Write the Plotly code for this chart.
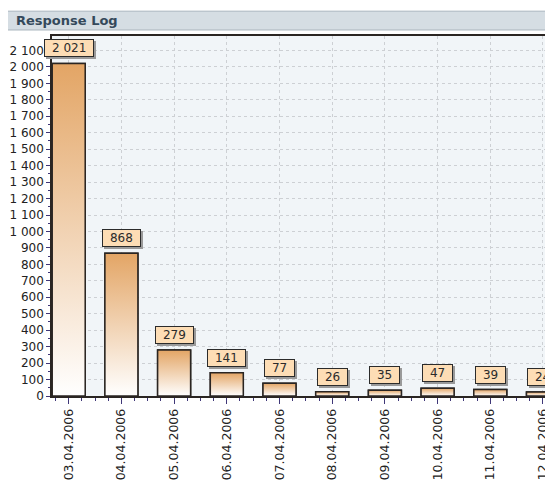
import plotly.graph_objects as go

# ---- data ----
dates = ["03.04.2006", "04.04.2006", "05.04.2006", "06.04.2006", "07.04.2006",
         "08.04.2006", "09.04.2006", "10.04.2006", "11.04.2006", "12.04.2006"]
responses = [2021, 868, 279, 141, 77, 26, 35, 47, 39, 24]
label_texts = ["2 021", "868", "279", "141", "77", "26", "35", "47", "39", "24"]
y_tick_vals = list(range(0, 2101, 100))
y_tick_text = ["0", "100", "200", "300", "400", "500", "600", "700", "800", "900",
               "1 000", "1 100", "1 200", "1 300", "1 400", "1 500", "1 600",
               "1 700", "1 800", "1 900", "2 000", "2 100"]
chart_title = "Response Log"

# ---- style ----
FONT = "DejaVu Sans"
BAR_W = 0.626
TOP_COL = "#E3A565"
BOT_COL = "#FFFFFF"
OUTLINE = "#2a2522"
TICK_COL = "#3f3778"

x_idx = list(range(len(dates)))

fig = go.Figure()

# gradient bodies of bars
for i, v in zip(x_idx, responses):
    xl, xr = i - BAR_W / 2, i + BAR_W / 2
    fig.add_trace(go.Scatter(
        x=[xl, xr, xr, xl, xl], y=[0, 0, v, v, 0],
        mode="lines", fill="toself",
        fillgradient=dict(type="vertical",
                          colorscale=[[0, BOT_COL], [1, TOP_COL]],
                          start=0, stop=v),
        line=dict(color=OUTLINE, width=1.5),
        hoverinfo="skip", showlegend=False,
    ))

# bar outlines through bar trace
fig.add_trace(go.Bar(
    x=x_idx, y=responses, width=BAR_W,
    marker=dict(color="rgba(0,0,0,0)", line=dict(color=OUTLINE, width=1.5)),
    showlegend=False, hovertext=dates,
))

# value labels with shadow
for i, v, t in zip(x_idx, responses, label_texts):
    w = len(t.replace(" ", "")) * 7.63 + t.count(" ") * 3.8 + 12
    fig.add_annotation(x=i, y=v, xref="x", yref="y", text=t, showarrow=False,
                       yanchor="bottom", yshift=4, xshift=2,
                       font=dict(family=FONT, size=12, color="rgba(0,0,0,0)"),
                       bgcolor="#9a9a9a", bordercolor="#9a9a9a", borderwidth=1,
                       borderpad=1, width=w, height=14)
    fig.add_annotation(x=i, y=v, xref="x", yref="y", text=t, showarrow=False,
                       yanchor="bottom", yshift=6,
                       font=dict(family=FONT, size=12, color="#2b2b2b"),
                       bgcolor="#FDDDB5", bordercolor="#2b2b2b", borderwidth=1,
                       borderpad=1, width=w, height=14)

# header band
fig.add_shape(type="rect", xref="paper", yref="paper",
              x0=-0.092, x1=1.02, y0=1.0167, y1=1.069,
              fillcolor="#D5DDE3", line=dict(color="#A9B5BE", width=1), layer="below")
fig.add_annotation(xref="paper", yref="paper", x=-0.076, y=1.0417,
                   xanchor="left", yanchor="middle", showarrow=False,
                   text="<b>" + chart_title + "</b>",
                   font=dict(family=FONT, size=13, color="#34495B"))

fig.update_layout(
    width=545, height=472,
    margin=dict(l=44, r=0, t=28, b=84, autoexpand=False),
    paper_bgcolor="white", plot_bgcolor="#F1F5F8",
    font=dict(family=FONT, size=12, color="#222222"),
    bargap=0.37,
    xaxis=dict(
        range=[-0.317, 9.19], automargin=False,
        tickmode="array", tickvals=x_idx, ticktext=dates, tickangle=-90,
        showline=True, linecolor=OUTLINE, linewidth=1.5, mirror=True,
        ticks="outside", ticklen=6, tickcolor=TICK_COL, tickwidth=1,
        showgrid=True, gridcolor="#CDD0D4", griddash="dot", gridwidth=1,
        minor=dict(dtick=0.25, tick0=0, ticks="outside", ticklen=3,
                   tickcolor=TICK_COL, showgrid=False),
        zeroline=False, tickfont=dict(family=FONT, size=12.5, color="#222222"),
    ),
    yaxis=dict(
        range=[0, 2188], automargin=False,
        tickmode="array", tickvals=y_tick_vals, ticktext=y_tick_text,
        showline=True, linecolor=OUTLINE, linewidth=1.5,
        ticks="outside", ticklen=4, tickcolor=TICK_COL, tickwidth=1,
        showgrid=True, gridcolor="#CDD0D4", griddash="dot", gridwidth=1,
        minor=dict(dtick=50, tick0=0, ticks="outside", ticklen=2,
                   tickcolor=TICK_COL, showgrid=False),
        zeroline=False, tickfont=dict(family=FONT, size=12, color="#222222"),
    ),
)

fig.write_html("out.html")
